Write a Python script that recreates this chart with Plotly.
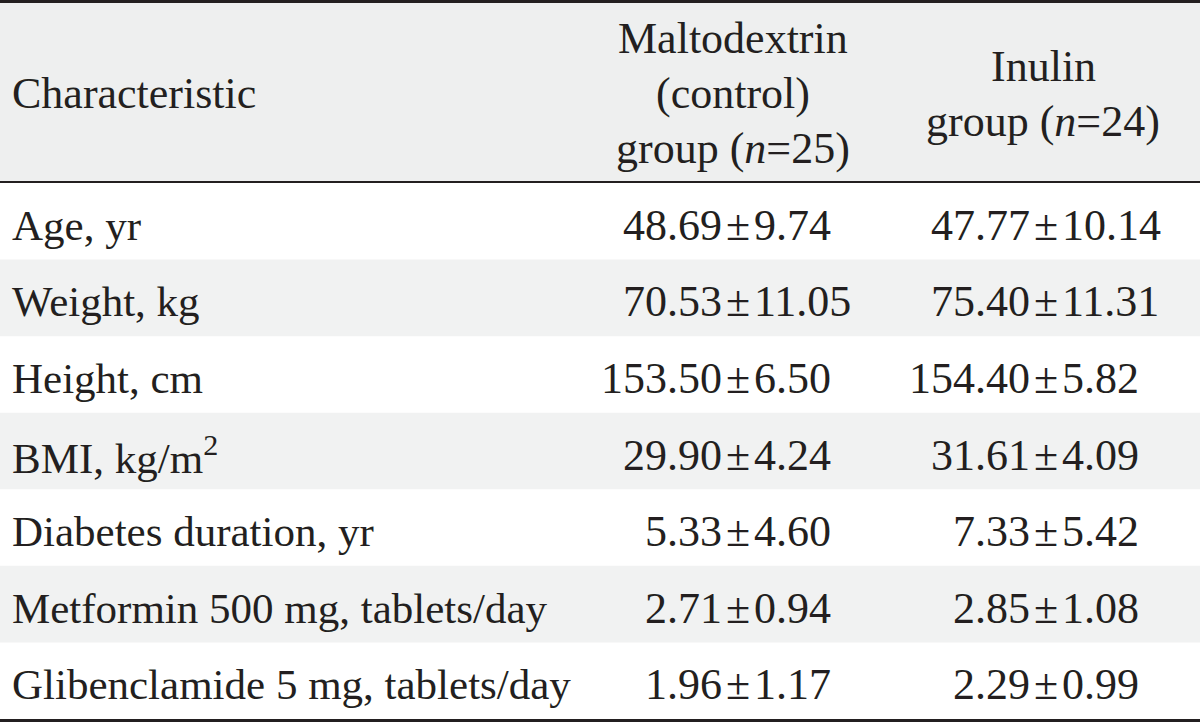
import plotly.graph_objects as go

# ---- data ----
characteristics = [
    "Age, yr",
    "Weight, kg",
    "Height, cm",
    "BMI, kg/m<sup>2</sup>",
    "Diabetes duration, yr",
    "Metformin 500 mg, tablets/day",
    "Glibenclamide 5 mg, tablets/day",
]
control_mean = [48.69, 70.53, 153.50, 29.90, 5.33, 2.71, 1.96]
control_sd = [9.74, 11.05, 6.50, 4.24, 4.60, 0.94, 1.17]
inulin_mean = [47.77, 75.40, 154.40, 31.61, 7.33, 2.85, 2.29]
inulin_sd = [10.14, 11.31, 5.82, 4.09, 5.42, 1.08, 0.99]

header_first = "Characteristic"
header_control = ["Maltodextrin", "(control)", "group (<i>n</i>=25)"]
header_inulin = ["Inulin", "group (<i>n</i>=24)"]

# ---- layout constants ----
W, H = 1200, 722
FONT = "Liberation Serif, Times New Roman, serif"
FS = 44
TXT = "#231f20"
HEAD_BG = "#eeefef"
ROW_BG = "#f1f2f2"
header_bottom = 183
table_bottom = 719
n_rows = len(characteristics)
row_h = (table_bottom - header_bottom) / n_rows
label_x = 10
col_pm_x = [738, 1046]
col_center_x = [733, 1043]
pm_gap = 14
line_gap = 55
text_dy = 4

fig = go.Figure()
shapes = []
annotations = []

# header background
shapes.append(dict(type="rect", xref="x", yref="y", x0=0, x1=W, y0=0, y1=header_bottom,
                   fillcolor=HEAD_BG, line_width=0, layer="below"))
# alternating row shading
for i in range(n_rows):
    if i % 2 == 1:
        y0 = header_bottom + i * row_h
        shapes.append(dict(type="rect", xref="x", yref="y", x0=0, x1=W, y0=y0, y1=y0 + row_h,
                           fillcolor=ROW_BG, line_width=0, layer="below"))
# rules
shapes.append(dict(type="line", xref="x", yref="y", x0=0, x1=W, y0=1.5, y1=1.5,
                   line=dict(color=TXT, width=3)))
shapes.append(dict(type="line", xref="x", yref="y", x0=0, x1=W, y0=header_bottom - 1, y1=header_bottom - 1,
                   line=dict(color=TXT, width=2)))
shapes.append(dict(type="line", xref="x", yref="y", x0=0, x1=W, y0=table_bottom + 1.5, y1=table_bottom + 1.5,
                   line=dict(color=TXT, width=3)))


def ann(x, y, text, anchor="left", size=FS):
    annotations.append(dict(x=x, y=y, xref="x", yref="y", text=text, showarrow=False,
                            xanchor=anchor, yanchor="middle",
                            font=dict(family=FONT, size=size, color=TXT)))


# header text
header_mid = header_bottom / 2 + 2
ann(label_x, header_mid, header_first, "left")
for lines, cx in ((header_control, col_center_x[0]), (header_inulin, col_center_x[1])):
    n = len(lines)
    for k, t in enumerate(lines):
        ann(cx, header_mid + (k - (n - 1) / 2) * line_gap, t, "center")

# body
for i, lab in enumerate(characteristics):
    yc = header_bottom + (i + 0.5) * row_h + text_dy
    ann(label_x, yc, lab, "left", 43)
    for means, sds, px in ((control_mean, control_sd, col_pm_x[0]), (inulin_mean, inulin_sd, col_pm_x[1])):
        ann(px - pm_gap, yc, f"{means[i]:.2f}", "right")
        ann(px, yc, "\u00b1", "center")
        ann(px + pm_gap, yc, f"{sds[i]:.2f}", "left")

fig.update_layout(
    width=W, height=H,
    margin=dict(l=0, r=0, t=0, b=0),
    paper_bgcolor="white", plot_bgcolor="white",
    xaxis=dict(range=[0, W], visible=False, fixedrange=True),
    yaxis=dict(range=[H, 0], visible=False, fixedrange=True),
    shapes=shapes, annotations=annotations, showlegend=False,
)
fig.write_html("out.html", config={"displayModeBar": False},
               post_script="document.body.style.margin='0';document.body.style.overflow='hidden';")
